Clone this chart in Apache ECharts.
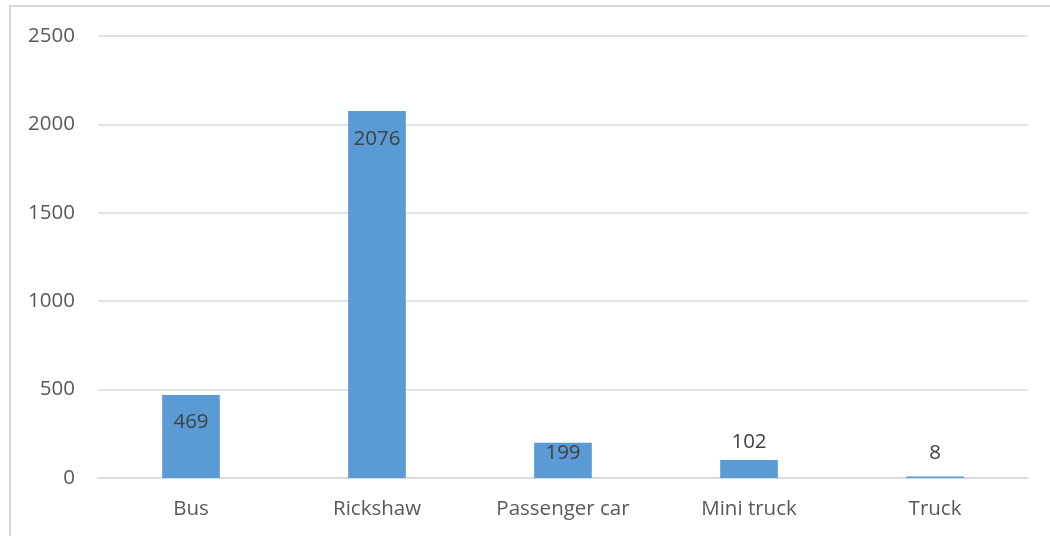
<!DOCTYPE html>
<html>
<head>
<meta charset="utf-8">
<script src="https://cdn.jsdelivr.net/npm/echarts@6/dist/echarts.min.js"></script>
<style>
  html, body { margin: 0; padding: 0; background: #ffffff; }
  #frame { position: absolute; left: 9px; top: 5px; width: 1050px; height: 540px;
           border-left: 2px solid #d9d9d9; border-top: 2px solid #d9d9d9; box-sizing: border-box; }
  #chart { position: absolute; left: 0; top: 0; width: 1050px; height: 536px; }
</style>
</head>
<body>
<div id="frame"></div>
<div id="chart"></div>
<script>
// Vehicle counts by type
const categories = ['Bus', 'Rickshaw', 'Passenger car', 'Mini truck', 'Truck'];
const counts = [469, 2076, 199, 102, 8];
const yTicks = [0, 500, 1000, 1500, 2000, 2500];

// Label placement per bar: tall bars get the value inside the top, short ones above
const labelPlacement = [
  { position: 'insideTop', distance: 17 },
  { position: 'insideTop', distance: 18 },
  { position: 'insideTop', distance: 0 },
  { position: 'top', distance: 7 },
  { position: 'top', distance: 13 }
];

const chart = echarts.init(document.getElementById('chart'), null, { renderer: 'canvas' });
const font = '"Open Sans", "Noto Sans", sans-serif';
const fontSize = 20.5;

chart.setOption({
  animation: false,
  grid: { left: 98, right: 22, top: 36, bottom: 58 },
  xAxis: {
    type: 'category',
    data: categories,
    axisLine: { show: true, lineStyle: { color: '#d9d9d9', width: 1.5 } },
    axisTick: { show: false },
    axisLabel: { color: '#595959', fontFamily: font, fontSize: fontSize, margin: 21 }
  },
  yAxis: {
    type: 'value',
    min: yTicks[0],
    max: yTicks[yTicks.length - 1],
    interval: yTicks[1] - yTicks[0],
    axisLine: { show: false },
    axisTick: { show: false },
    splitLine: { lineStyle: { color: '#d9d9d9', width: 1.5 } },
    axisLabel: {
      color: '#595959', fontFamily: font, fontSize: fontSize, margin: 23,
      formatter: (v) => String(v)
    }
  },
  series: [{
    type: 'bar',
    barWidth: '31%',
    itemStyle: { color: '#5b9bd5' },
    label: { show: true, color: '#404040', fontFamily: font, fontSize: fontSize },
    data: counts.map((v, i) => ({ value: v, label: labelPlacement[i] }))
  }]
});
</script>
</body>
</html>
